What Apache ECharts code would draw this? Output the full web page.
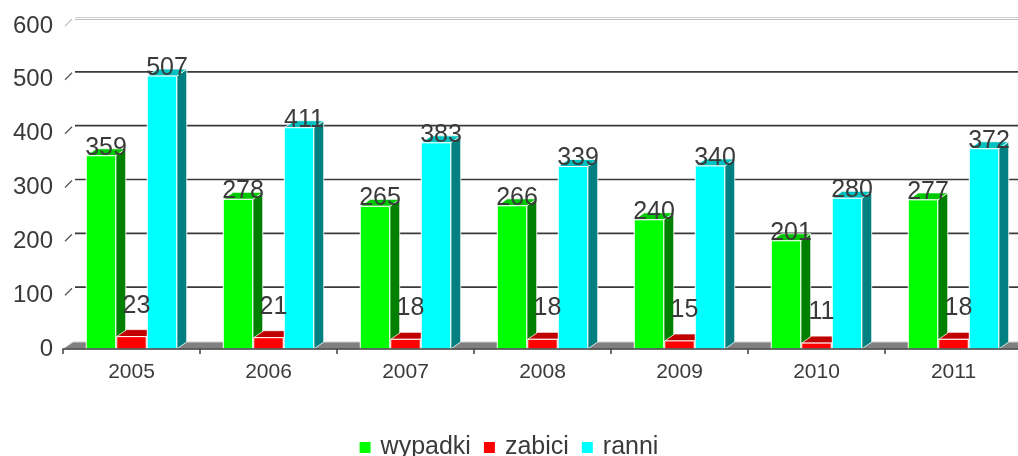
<!DOCTYPE html>
<html><head><meta charset="utf-8">
<script src="https://cdn.jsdelivr.net/npm/echarts@6/dist/echarts.min.js"></script>
<style>html,body{margin:0;padding:0;background:#fff}#c{width:1018px;height:456px}</style>
</head><body><div id="c"></div>
<script>
const years = ['2005','2006','2007','2008','2009','2010','2011'];
const wypadki = [359,278,265,266,240,201,277];
const zabici = [23,21,18,18,15,11,18];
const ranni = [507,411,383,339,340,280,372];
const yTicks = [0,100,200,300,400,500,600];

const FONT = '"Liberation Sans", Arial, sans-serif';
const TXT = '#3a3a3a';
const DX = 10, DY = -7;   // bar depth
const GX = 11, GY = -8;   // back wall depth

function barRender(sIdx, front, top, side, lift){
  return function(params, api){
    const i = api.value(0), v = api.value(1);
    const pt = api.coord([i, v]), pb = api.coord([i, 0]);
    const cw = api.size([1, 0])[0];
    const w = cw*0.215, step = cw*0.2226;
    const cx = pt[0] + (sIdx-1)*step;
    const x0 = cx - w/2, x1 = cx + w/2, yT = pt[1], yB = pb[1];
    return {type:'group', children:[
      {type:'polygon', shape:{points:[[x1,yT],[x1+DX,yT+DY],[x1+DX,yB+DY],[x1,yB]]}, style:{fill:side, stroke:'#fff', lineWidth:0.8}},
      {type:'polygon', shape:{points:[[x0,yT],[x0+DX,yT+DY],[x1+DX,yT+DY],[x1,yT]]}, style:{fill:top, stroke:'#fff', lineWidth:0.8}},
      {type:'rect', shape:{x:x0,y:yT,width:w,height:yB-yT}, style:{fill:front, stroke:'#fff', lineWidth:1}},
      {type:'text', z2:100, style:{text:String(v), x:cx+DX/2, y:yT-lift, align:'center', verticalAlign:'middle', fill:TXT, fontSize:25, fontFamily:FONT}}
    ]};
  };
}

function gridRender(params, api){
  const cs = params.coordSys;
  const v = api.value(1);
  const yf = api.coord([0, v])[1];
  const xL = cs.x, xR = cs.x + cs.width;
  if (v === 0) {
    return {type:'group', children:[
      {type:'polygon', shape:{points:[[xL,yf],[xL+DX,yf+DY],[xR+DX,yf+DY],[xR,yf]]}, style:{fill:'#808080', stroke:'#d0d0d0', lineWidth:1}}
    ]};
  }
  if (v === 600) {
    return {type:'group', children:[
      {type:'line', shape:{x1:xL+2, y1:yf, x2:xL+GX-2, y2:yf+GY+1}, style:{stroke:'#c4c4c4', lineWidth:1.3}},
      {type:'line', shape:{x1:xL+GX+1, y1:yf+GY-0.5, x2:xR+GX+20, y2:yf+GY-0.5}, style:{stroke:'#cfcfcf', lineWidth:1}},
      {type:'line', shape:{x1:xL+GX+1, y1:yf+GY+1.5, x2:xR+GX+20, y2:yf+GY+1.5}, style:{stroke:'#bdbdbd', lineWidth:1}}
    ]};
  }
  return {type:'group', children:[
    {type:'line', shape:{x1:xL+2, y1:yf, x2:xL+GX-2, y2:yf+GY+1}, style:{stroke:'#555', lineWidth:1.3}},
    {type:'line', shape:{x1:xL+GX+1, y1:yf+GY, x2:xR+GX+20, y2:yf+GY}, style:{stroke:'#3a3a3a', lineWidth:1.6}}
  ]};
}

const chart = echarts.init(document.getElementById('c'), null, {renderer:'canvas'});
chart.setOption({
  animation:false,
  backgroundColor:'#fff',
  grid:{left:63, right:-4, top:26, bottom:107, containLabel:false, outerBoundsMode:'none'},
  legend:{
    data:['wypadki','zabici','ranni'],
    top:430, left:'center',
    icon:'rect', itemWidth:11, itemHeight:11, itemGap:13,
    textStyle:{fontSize:25, color:TXT, fontFamily:FONT, padding:[0,0,0,5]}
  },
  xAxis:{
    type:'category', data:years, z:5,
    axisLine:{lineStyle:{color:'#404040', width:1.5}},
    axisTick:{show:true, length:5, lineStyle:{color:'#404040', width:1.5}},
    axisLabel:{fontSize:21, color:TXT, fontFamily:FONT, margin:13},
    splitLine:{show:false}
  },
  yAxis:{
    type:'value', min:0, max:600, interval:100,
    axisLine:{show:false}, axisTick:{show:false}, splitLine:{show:false},
    axisLabel:{fontSize:24, color:TXT, fontFamily:FONT, margin:10}
  },
  series:[
    {type:'custom', name:'grid', silent:true, z:1, clip:false, encode:{x:0,y:1},
     data: yTicks.map(t=>[0,t]), renderItem: gridRender},
    {type:'custom', name:'wypadki', z:2, clip:false, encode:{x:0,y:1}, itemStyle:{color:'#00ff00'},
     data: wypadki.map((v,i)=>[i,v]), renderItem: barRender(0,'#00ff00','#00c800','#008000',8)},
    {type:'custom', name:'zabici', z:2, clip:false, encode:{x:0,y:1}, itemStyle:{color:'#ff0000'},
     data: zabici.map((v,i)=>[i,v]), renderItem: barRender(1,'#ff0000','#c00000','#800000',31)},
    {type:'custom', name:'ranni', z:2, clip:false, encode:{x:0,y:1}, itemStyle:{color:'#00ffff'},
     data: ranni.map((v,i)=>[i,v]), renderItem: barRender(2,'#00ffff','#00c0c0','#008080',8)}
  ]
});
</script>
</body></html>
